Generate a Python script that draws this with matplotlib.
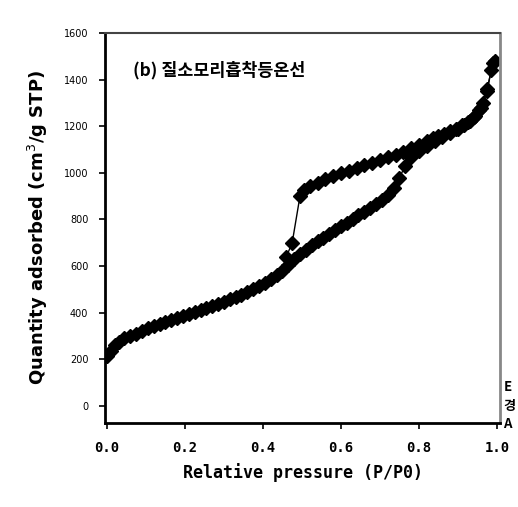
import numpy as np
import matplotlib
matplotlib.use('Agg')
import matplotlib.pyplot as plt

plt.rcParams['font.family'] = ['DejaVu Sans', 'Noto Sans CJK KR']

# adsorption branch (P/P0, cm3/g STP)
ads_x = [0.0, 0.01, 0.02, 0.03, 0.045, 0.06, 0.075, 0.09, 0.105, 0.12, 0.135, 0.15,
         0.165, 0.18, 0.195, 0.21, 0.225, 0.24, 0.255, 0.27, 0.285, 0.30, 0.315, 0.33,
         0.345, 0.36, 0.375, 0.39, 0.405, 0.42, 0.435, 0.45, 0.465, 0.48, 0.495, 0.51,
         0.525, 0.54, 0.555, 0.57, 0.585, 0.60, 0.615, 0.63, 0.645, 0.66, 0.675, 0.69,
         0.705, 0.72, 0.735, 0.75, 0.765, 0.78, 0.80, 0.82, 0.84, 0.86, 0.88, 0.90,
         0.915, 0.93, 0.945, 0.96, 0.975, 0.99]
ads_y = [215, 235, 262, 275, 290, 300, 310, 322, 333, 343, 352, 360,
         368, 377, 386, 394, 402, 410, 419, 428, 437, 447, 457, 467,
         478, 490, 502, 515, 528, 543, 560, 580, 605, 630, 650, 670,
         690, 706, 722, 738, 754, 770, 786, 802, 818, 834, 850, 866,
         884, 905, 935, 980, 1030, 1070, 1095, 1115, 1135, 1155, 1172, 1190,
         1205, 1222, 1245, 1280, 1360, 1470]

# desorption branch
des_x = [0.995, 0.985, 0.975, 0.965, 0.955, 0.94, 0.925, 0.91, 0.895, 0.88, 0.865,
         0.85, 0.835, 0.82, 0.80, 0.78, 0.76, 0.74, 0.72, 0.70, 0.68, 0.66, 0.64,
         0.62, 0.60, 0.58, 0.56, 0.54, 0.52, 0.505, 0.495, 0.475, 0.46]
des_y = [1480, 1440, 1350, 1300, 1270, 1240, 1220, 1205, 1190, 1178, 1168,
         1158, 1148, 1138, 1120, 1105, 1090, 1078, 1066, 1055, 1044, 1033, 1022,
         1010, 998, 986, 972, 958, 942, 925, 900, 700, 640]

xticks = [0.0, 0.2, 0.4, 0.6, 0.8, 1.0]
yticks = [0, 200, 400, 600, 800, 1000, 1200, 1400, 1600]

fig = plt.figure(figsize=(5.18, 5.07), dpi=100)
ax = fig.add_axes([0.2027, 0.1657, 0.7626, 0.7692])

ax.plot(ads_x, ads_y, '-D', color='black', markersize=7, linewidth=1)
ax.plot(des_x, des_y, '-D', color='black', markersize=7, linewidth=1)

ax.set_xlim(-0.005, 1.008)
ax.set_ylim(-73, 1600)
ax.set_xticks(xticks)
ax.set_xticklabels(['%.1f' % v for v in xticks], fontsize=10, fontweight='bold',
                   family='DejaVu Sans Mono')
ax.set_yticks(yticks)
ax.set_yticklabels([str(v) for v in yticks], fontsize=7)
ax.tick_params(direction='out', length=4, width=1.2)
ax.tick_params(axis='x', pad=9)
ax.tick_params(axis='y', pad=8)

for s in ['left', 'bottom']:
    ax.spines[s].set_linewidth(2)
ax.spines['top'].set_color('#444444')
ax.spines['top'].set_linewidth(1.5)
ax.spines['right'].set_color('#888888')
ax.spines['right'].set_linewidth(2)

ax.set_xlabel('Relative pressure (P/P0)', fontsize=12, fontweight='bold',
              family='DejaVu Sans Mono', labelpad=6)
ax.set_ylabel('Quantity adsorbed (cm$^3$/g STP)', fontsize=13, fontweight='bold',
              labelpad=10)

ax.text(0.07, 0.905, '(b) 질소모리흡착등온선', transform=ax.transAxes, fontsize=12.5,
        fontweight='bold', family=['Noto Sans CJK KR', 'DejaVu Sans'], va='center')

# text at the right edge of the page
fig.text(0.972, 0.2, 'E\n경\nA', fontsize=9.5, fontweight='bold', va='center',
         family=['Noto Sans CJK KR', 'DejaVu Sans'], linespacing=1.4)

fig.savefig('out.png', dpi=100, facecolor='white')
